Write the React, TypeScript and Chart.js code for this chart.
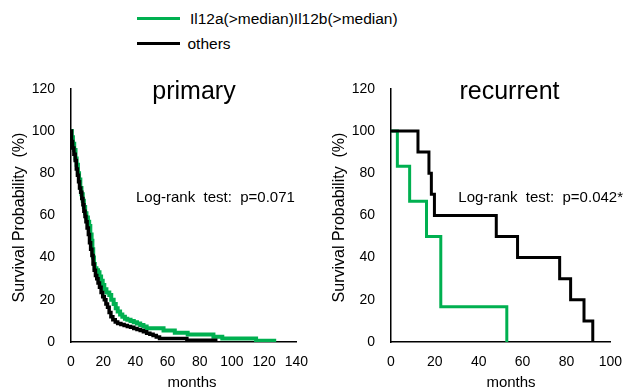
import React, { useEffect, useRef } from "react";
import { Chart, registerables } from "chart.js";
Chart.register(...registerables);

const GREEN = "#00B050";
const BLACK = "#000000";
const FONT = '"Liberation Sans", Arial, Helvetica, sans-serif';

const legendLabels = ["Il12a(>median)Il12b(>median)", "others"];
const panelTitles = ["primary", "recurrent"];
const pValueTexts = ["Log-rank  test:  p=0.071", "Log-rank  test:  p=0.042*"];
const yAxisTitle = "Survival Probability  (%)";
const xAxisTitle = "months";

const yTicks = { min: 0, max: 120, step: 20 };
const primaryXTicks = { min: 0, max: 140, step: 20 };
const recurrentXTicks = { min: 0, max: 100, step: 20 };

// primary cohort, Il12a/Il12b high (green)
const primaryGreenMonths = [0, 0.5, 1.2, 2, 2.8, 3.5, 4.3, 5, 5.8, 6.5, 7.3, 8, 8.8, 9.6, 10.5, 11.3, 12, 12.8, 13.3, 13.8, 14.3, 14.8, 15.8, 16.8, 17.7, 18.7, 19.7, 20.7, 22, 23.8, 25, 26.5, 27.8, 29, 30.5, 31.9, 33.5, 35, 37, 39, 41, 43, 45, 47, 57.5, 64.5, 72.5, 88.5, 94, 115, 127.5];
const primaryGreenSurvival = [100, 97, 94, 91, 87, 84, 80, 77, 73, 70, 67, 64, 61, 59, 57, 55, 51, 48, 44, 40, 37, 35, 34, 33, 31, 29, 27, 25, 23.5, 22.3, 20, 18, 16, 14.5, 13, 12, 11, 10.5, 10, 9.4, 8.8, 8, 7.3, 6.5, 5.4, 4.4, 3.6, 2.5, 1.6, 0.6, 0.6];

// primary cohort, others (black)
const primaryOtherMonths = [0, 0.3, 1, 1.8, 2.6, 3.3, 4, 4.7, 5.3, 6, 6.7, 7.4, 8, 8.7, 9.3, 10, 10.8, 11.5, 12.2, 13, 13.7, 14.4, 15.2, 16, 16.8, 17.7, 18.7, 19.7, 20.7, 21.7, 22.7, 23.7, 24.8, 26, 27.5, 29, 31, 33, 35, 37, 39, 41, 43, 45, 47, 49, 51, 53, 55, 72, 91];
const primaryOtherSurvival = [100, 95, 92, 89, 86, 82, 79, 76, 73, 71, 68, 65, 62, 59.5, 57, 54, 51, 47, 44, 41, 37, 34, 31.5, 30, 28, 26, 23.5, 21.5, 20, 18, 16.5, 14, 12, 10.5, 9.5, 8.8, 8.3, 7.8, 7.4, 7, 6.4, 5.9, 5.4, 4.8, 4.2, 3.7, 3.1, 2.4, 1.6, 0.8, 0.8];

// recurrent cohort
const recurrentGreenMonths = [0, 2.9, 8.5, 16.2, 22.7, 52.8];
const recurrentGreenSurvival = [100, 83.3, 66.7, 50, 16.7, 0];
const recurrentOtherMonths = [0, 12.3, 17.3, 18.4, 19.8, 48, 57.7, 76.9, 81.9, 88, 92];
const recurrentOtherSurvival = [100, 90, 80, 70, 60, 50, 40, 30, 20, 10, 0];

const toPoints = (xs: number[], ys: number[]) => xs.map((x, i) => ({ x, y: ys[i] }));

type PanelProps = {
  width: number;
  height: number;
  title: string;
  titleX: number;
  pText: string;
  pX: number;
  xTicks: { min: number; max: number; step: number };
  padRight: number;
  greenMonths: number[];
  greenSurv: number[];
  otherMonths: number[];
  otherSurv: number[];
  greenWidth: number;
  otherWidth: number;
  xTitleX: number;
};

function Panel(p: PanelProps) {
  const ref = useRef<HTMLCanvasElement | null>(null);
  useEffect(() => {
    if (!ref.current) return;
    const textPlugin = {
      id: "panelTexts",
      afterDraw(chart: any) {
        const ctx = chart.ctx;
        ctx.save();
        ctx.fillStyle = "#000";
        ctx.textAlign = "center";
        ctx.textBaseline = "alphabetic";
        ctx.font = `25px ${FONT}`;
        ctx.fillText(p.title, p.titleX, 38.5);
        ctx.font = `15px ${FONT}`;
        ctx.textAlign = "left";
        ctx.fillText(p.pText, p.pX, 141.5);
        ctx.textAlign = "center";
        ctx.fillText(xAxisTitle, p.xTitleX, 326.5);
        ctx.save();
        ctx.translate(19.5, 157.5);
        ctx.rotate(-Math.PI / 2);
        ctx.textBaseline = "middle";
        ctx.font = `16px ${FONT}`;
        ctx.fillText(yAxisTitle, 0, 0);
        ctx.restore();
        ctx.restore();
      },
    };
    const chart = new Chart(ref.current, {
      type: "line",
      data: {
        datasets: [
          {
            label: legendLabels[1],
            data: toPoints(p.otherMonths, p.otherSurv),
            borderColor: BLACK,
            backgroundColor: BLACK,
            borderWidth: p.otherWidth,
            stepped: "before",
            pointRadius: 0,
            fill: false,
          },
          {
            label: legendLabels[0],
            data: toPoints(p.greenMonths, p.greenSurv),
            borderColor: GREEN,
            backgroundColor: GREEN,
            borderWidth: p.greenWidth,
            stepped: "before",
            pointRadius: 0,
            fill: false,
          },
        ],
      },
      options: {
        animation: false,
        responsive: false,
        devicePixelRatio: 1,
        layout: { padding: { top: 28.8, right: p.padRight, bottom: 0, left: 0 } },
        plugins: { legend: { display: false }, tooltip: { enabled: false }, title: { display: false } },
        scales: {
          x: {
            type: "linear",
            min: p.xTicks.min,
            max: p.xTicks.max,
            grid: { display: false, drawTicks: false },
            border: { display: true, color: "#000", width: 1.5 },
            ticks: {
              stepSize: p.xTicks.step,
              autoSkip: false,
              maxRotation: 0,
              padding: 12,
              color: "#000",
              font: { family: FONT, size: 14 },
            },
            afterFit: (s: any) => {
              s.height = 47;
            },
          },
          y: {
            type: "linear",
            min: yTicks.min,
            max: yTicks.max,
            grid: { display: false, drawTicks: false },
            border: { display: true, color: "#000", width: 1.5 },
            ticks: {
              stepSize: yTicks.step,
              padding: 16,
              color: "#000",
              font: { family: FONT, size: 14 },
            },
            afterFit: (s: any) => {
              s.width = 71;
            },
          },
        },
      },
      plugins: [textPlugin],
    } as any);
    return () => chart.destroy();
  }, []);
  return <canvas ref={ref} width={p.width} height={p.height} style={{ display: "block", width: p.width, height: p.height }} />;
}

export default function App() {
  return (
    <div style={{ position: "absolute", left: 0, top: 0, width: 634, height: 389, background: "#fff", fontFamily: FONT, overflow: "hidden" }}>
      <div style={{ position: "absolute", left: 137, top: 16.5, width: 43, height: 3, background: GREEN }} />
      <div style={{ position: "absolute", left: 190, top: 9.5, fontSize: 15.5, lineHeight: "17px", color: "#000", whiteSpace: "nowrap" }}>{legendLabels[0]}</div>
      <div style={{ position: "absolute", left: 137, top: 41.5, width: 43, height: 3, background: BLACK }} />
      <div style={{ position: "absolute", left: 187.5, top: 34.5, fontSize: 15.5, lineHeight: "17px", color: "#000", whiteSpace: "nowrap" }}>{legendLabels[1]}</div>
      <div style={{ position: "absolute", left: 0, top: 60 }}>
        <Panel
          width={320}
          height={329}
          title={panelTitles[0]}
          titleX={194}
          pText={pValueTexts[0]}
          pX={136}
          xTicks={primaryXTicks}
          padRight={19.4}
          greenMonths={primaryGreenMonths}
          greenSurv={primaryGreenSurvival}
          otherMonths={primaryOtherMonths}
          otherSurv={primaryOtherSurvival}
          greenWidth={4}
          otherWidth={3.5}
          xTitleX={192}
        />
      </div>
      <div style={{ position: "absolute", left: 320, top: 60 }}>
        <Panel
          width={314}
          height={329}
          title={panelTitles[1]}
          titleX={189.5}
          pText={pValueTexts[1]}
          pX={138.3}
          xTicks={recurrentXTicks}
          padRight={13}
          greenMonths={recurrentGreenMonths}
          greenSurv={recurrentGreenSurvival}
          otherMonths={recurrentOtherMonths}
          otherSurv={recurrentOtherSurvival}
          greenWidth={3}
          otherWidth={3}
          xTitleX={191}
        />
      </div>
    </div>
  );
}
